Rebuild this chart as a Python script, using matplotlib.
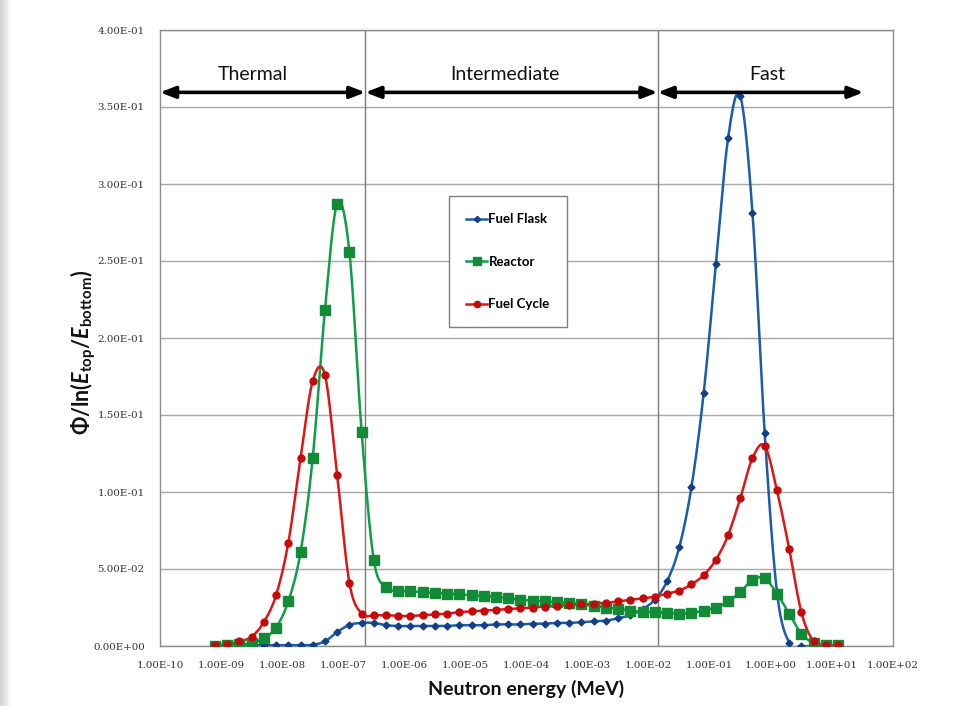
import numpy as np
import matplotlib
matplotlib.use("Agg")
import matplotlib.pyplot as plt
from matplotlib.lines import Line2D

plt.rcParams["mathtext.fontset"] = "custom"
plt.rcParams["mathtext.rm"] = "Lato:bold"
plt.rcParams["mathtext.it"] = "Lato:italic:bold"
plt.rcParams["mathtext.bf"] = "Lato:bold"
plt.rcParams["mathtext.sf"] = "Lato:bold"

# ---------------- data ----------------
energy_mev = [7.94e-10, 1.26e-9, 2.00e-9, 3.16e-9, 5.01e-9,
              7.94e-9, 1.26e-8, 2.00e-8, 3.16e-8, 5.01e-8,
              7.94e-8, 1.26e-7, 2.00e-7, 3.16e-7, 5.01e-7,
              7.94e-7, 1.26e-6, 2.00e-6, 3.16e-6, 5.01e-6,
              7.94e-6, 1.26e-5, 2.00e-5, 3.16e-5, 5.01e-5,
              7.94e-5, 1.26e-4, 2.00e-4, 3.16e-4, 5.01e-4,
              7.94e-4, 1.26e-3, 2.00e-3, 3.16e-3, 5.01e-3,
              7.94e-3, 1.26e-2, 2.00e-2, 3.16e-2, 5.01e-2,
              7.94e-2, 1.26e-1, 2.00e-1, 3.16e-1, 5.01e-1,
              7.94e-1, 1.26, 2.00, 3.16, 5.01,
              7.94, 12.6]

fuel_flask = [0.0005, 0.0005, 0.0005, 0.0005, 0.0005,
              0.0005, 0.0005, 0.0005, 0.0008, 0.003,
              0.009, 0.0137, 0.015, 0.015, 0.0135,
              0.013, 0.013, 0.013, 0.013, 0.013,
              0.0135, 0.0135, 0.0135, 0.014, 0.014,
              0.014, 0.0145, 0.0145, 0.015, 0.015,
              0.0155, 0.016, 0.0165, 0.018, 0.020,
              0.024, 0.030, 0.042, 0.064, 0.103,
              0.164, 0.248, 0.330, 0.357, 0.281,
              0.138, 0.035, 0.002, 0.0, 0.0,
              0.0, 0.0]

reactor = [0.0003, 0.0005, 0.001, 0.002, 0.005,
           0.012, 0.029, 0.061, 0.122, 0.218,
           0.287, 0.256, 0.139, 0.056, 0.038,
           0.036, 0.0355, 0.035, 0.0345, 0.034,
           0.0335, 0.033, 0.0325, 0.032, 0.031,
           0.030, 0.0295, 0.029, 0.0285, 0.028,
           0.027, 0.026, 0.025, 0.024, 0.023,
           0.022, 0.022, 0.0215, 0.021, 0.0215,
           0.023, 0.025, 0.029, 0.035, 0.043,
           0.044, 0.034, 0.021, 0.008, 0.002,
           0.0005, 0.0005]

fuel_cycle = [0.0005, 0.001, 0.003, 0.006, 0.0156,
              0.033, 0.067, 0.122, 0.172, 0.176,
              0.111, 0.041, 0.021, 0.020, 0.020,
              0.0195, 0.0195, 0.020, 0.0205, 0.021,
              0.022, 0.0225, 0.023, 0.0235, 0.024,
              0.0245, 0.025, 0.0255, 0.026, 0.0265,
              0.027, 0.0275, 0.028, 0.029, 0.030,
              0.031, 0.032, 0.034, 0.036, 0.040,
              0.046, 0.056, 0.072, 0.096, 0.122,
              0.130, 0.101, 0.063, 0.022, 0.003,
              0.0008, 0.0005]

series_names = ["Fuel Flask", "Reactor", "Fuel Cycle"]

x_ticks = [1e-10, 1e-9, 1e-8, 1e-7, 1e-6, 1e-5, 1e-4, 1e-3, 1e-2, 1e-1, 1e0, 1e1, 1e2]
x_tick_labels = ["1.00E-10", "1.00E-09", "1.00E-08", "1.00E-07", "1.00E-06",
                 "1.00E-05", "1.00E-04", "1.00E-03", "1.00E-02", "1.00E-01",
                 "1.00E+00", "1.00E+01", "1.00E+02"]
y_ticks = [0.0, 0.05, 0.10, 0.15, 0.20, 0.25, 0.30, 0.35, 0.40]
y_tick_labels = ["0.00E+00", "5.00E-02", "1.00E-01", "1.50E-01", "2.00E-01",
                 "2.50E-01", "3.00E-01", "3.50E-01", "4.00E-01"]

region_names = ["Thermal", "Intermediate", "Fast"]
region_edges = [1.0e-10, 2.3e-7, 1.4e-2, 33.0]
region_label_x = [3.35e-9, 4.4e-5, 0.89]
region_boundaries = [2.3e-7, 1.4e-2]

# ---------------- styling ----------------
colors = {"Fuel Flask": "#1b5cab", "Reactor": "#0f9e4a", "Fuel Cycle": "#e01515"}
mcolors = {"Fuel Flask": "#153f85", "Reactor": "#128a36", "Fuel Cycle": "#c40a0a"}
markers = {"Fuel Flask": "D", "Reactor": "s", "Fuel Cycle": "o"}
msizes = {"Fuel Flask": 3.5, "Reactor": 6.5, "Fuel Cycle": 5.0}


def smooth_curve(xs, ys, n=16):
    """Cubic Hermite (Catmull-Rom) through the points, in log10(x) space."""
    lx = np.log10(np.asarray(xs, float))
    y = np.asarray(ys, float)
    m = np.empty_like(y)
    m[1:-1] = (y[2:] - y[:-2]) / 2.0
    m[0] = y[1] - y[0]
    m[-1] = y[-1] - y[-2]
    out_x, out_y = [], []
    t = np.linspace(0, 1, n, endpoint=False)
    h00 = 2 * t**3 - 3 * t**2 + 1
    h10 = t**3 - 2 * t**2 + t
    h01 = -2 * t**3 + 3 * t**2
    h11 = t**3 - t**2
    for i in range(len(y) - 1):
        out_y.append(h00 * y[i] + h10 * m[i] + h01 * y[i + 1] + h11 * m[i + 1])
        out_x.append(lx[i] + t * (lx[i + 1] - lx[i]))
    out_x.append([lx[-1]])
    out_y.append([y[-1]])
    return 10 ** np.concatenate(out_x), np.concatenate(out_y)


fig = plt.figure(figsize=(9.79, 7.06), dpi=100)
fig.patch.set_facecolor("white")

# faint grey band on the left edge of the picture
band = fig.add_axes([0, 0, 12 / 979, 1])
band.imshow(np.linspace(0.82, 1.0, 50)[None, :], cmap="gray", vmin=0, vmax=1,
            aspect="auto", extent=[0, 1, 0, 1])
band.set_axis_off()

ax = fig.add_axes([160 / 979, 60 / 706, 733 / 979, 616 / 706])
ax.set_xscale("log")
ax.set_xlim(1e-10, 1e2)
ax.set_ylim(0, 0.4)

ax.set_xticks(x_ticks)
ax.set_xticklabels(x_tick_labels)
ax.xaxis.set_minor_locator(matplotlib.ticker.NullLocator())
ax.set_yticks(y_ticks)
ax.set_yticklabels(y_tick_labels)
ax.tick_params(axis="both", length=0, labelsize=7.4, colors="#333333")
ax.tick_params(axis="x", pad=11)
ax.tick_params(axis="y", pad=11)
for lab in ax.get_xticklabels() + ax.get_yticklabels():
    lab.set_family("DejaVu Serif")

ax.grid(axis="y", color="#a8a8a8", lw=1.0)
ax.set_axisbelow(True)
for sp in ax.spines.values():
    sp.set_color("#8c8c8c")
    sp.set_linewidth(1.0)

for b in region_boundaries:
    ax.axvline(b, color="#7a7a7a", lw=1.0, zorder=1)

data = {"Fuel Flask": fuel_flask, "Reactor": reactor, "Fuel Cycle": fuel_cycle}
for name in series_names:
    sx, sy = smooth_curve(energy_mev, data[name])
    ax.plot(sx, sy, color=colors[name], lw=1.8, zorder=3)
    ax.plot(energy_mev, data[name], ls="none", marker=markers[name],
            ms=msizes[name], color=mcolors[name], mec=mcolors[name], zorder=4)

# region arrows and labels
arrow_y = 0.3595
label_y = 0.371
for i, name in enumerate(region_names):
    lo, hi = region_edges[i], region_edges[i + 1]
    ax.annotate("", xy=(lo, arrow_y), xytext=(hi, arrow_y),
                arrowprops=dict(arrowstyle="<|-|>,head_length=0.9,head_width=0.35",
                                color="black", lw=2.6, shrinkA=0, shrinkB=0),
                zorder=6, annotation_clip=False)
    ax.text(region_label_x[i], label_y, name, ha="center", va="center",
            fontsize=14, family="Lato", color="#111111", zorder=6)

# legend
handles = [Line2D([0], [0], color=colors[n], lw=1.8, marker=markers[n],
                  ms=msizes[n] * 0.9, mfc=mcolors[n], mec=mcolors[n])
           for n in series_names]
leg = ax.legend(handles, series_names, loc="upper left",
                bbox_to_anchor=(0.394, 0.730), frameon=True, fancybox=False,
                edgecolor="#7f7f7f", framealpha=1.0, labelspacing=2.3,
                handlelength=1.6, handletextpad=0.1, borderpad=1.3,
                borderaxespad=0.0,
                prop={"family": "Lato", "size": 9.5, "weight": "bold"})
leg.get_frame().set_linewidth(1.0)
leg.set_zorder(7)

# axis titles
ax.set_xlabel("Neutron energy (MeV)", family="Lato", weight="bold",
              fontsize=14, color="#111111")
ax.xaxis.set_label_coords(0.5, -0.055)

ax.set_ylabel(r"$\mathrm{\Phi/ln(}E_{\mathrm{top}}/E_{\mathrm{bottom}}\mathrm{)}$",
              fontsize=15.5, color="#111111")
ax.yaxis.set_label_coords(-0.085, 0.477)

fig.savefig("out.png", dpi=100, facecolor="white")
